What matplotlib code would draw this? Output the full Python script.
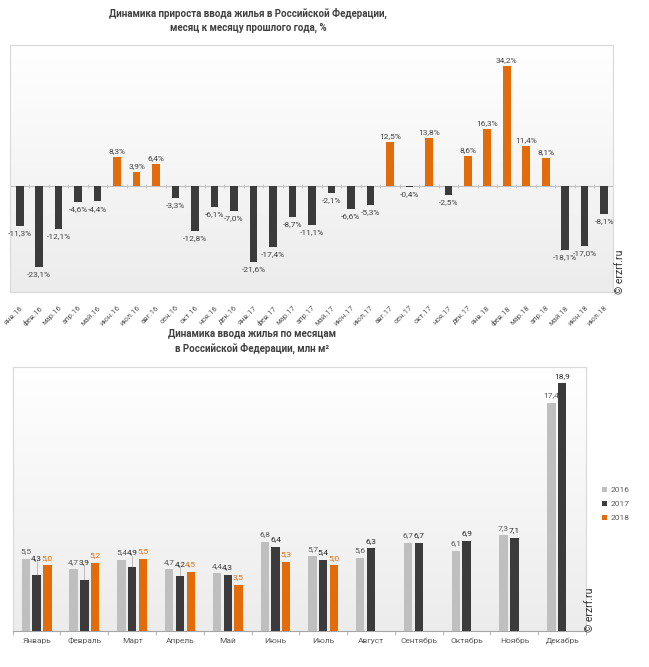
import numpy as np
import matplotlib.pyplot as plt

plt.rcParams['font.family'] = ['Roboto', 'DejaVu Sans']

# --- top chart data: growth month to month of previous year, %
months_growth = ["янв.16", "фев.16", "мар.16", "апр.16", "май.16", "июн.16", "июл.16", "авг.16",
                 "сен.16", "окт.16", "ноя.16", "дек.16", "янв.17", "фев.17", "мар.17", "апр.17",
                 "май.17", "июн.17", "июл.17", "авг.17", "сен.17", "окт.17", "ноя.17", "дек.17",
                 "янв.18", "фев.18", "мар.18", "апр.18", "май.18", "июн.18", "июл.18"]
growth = [-11.3, -23.1, -12.1, -4.6, -4.4, 8.3, 3.9, 6.4, -3.3, -12.8, -6.1, -7.0,
          -21.6, -17.4, -8.7, -11.1, -2.1, -6.6, -5.3, 12.5, -0.4, 13.8, -2.5, 8.6,
          16.3, 34.2, 11.4, 8.1, -18.1, -17.0, -8.1]

# --- bottom chart data: housing input by month, mln m2
months = ["Январь", "Февраль", "Март", "Апрель", "Май", "Июнь", "Июль", "Август",
          "Сентябрь", "Октябрь", "Ноябрь", "Декабрь"]
years = ["2016", "2017", "2018"]
v2016 = [5.5, 4.7, 5.4, 4.7, 4.4, 6.8, 5.7, 5.6, 6.7, 6.1, 7.3, 17.4]
v2017 = [4.3, 3.9, 4.9, 4.2, 4.3, 6.4, 5.4, 6.3, 6.7, 6.9, 7.1, 18.9]
v2018 = [5.0, 5.2, 5.5, 4.5, 3.5, 5.3, 5.0]

ORANGE = '#e36c0a'
DARK = '#3b3b3b'
LIGHT = '#bfbfbf'
TXT = '#404040'
BORDER = '#d9d9d9'


def fmt(v):
    return f"{v:.1f}".replace('.', ',')


def gradient_bg(ax):
    grad = np.linspace(1, 0, 256).reshape(-1, 1)
    ax.imshow(grad, extent=[0, 1, 0, 1], transform=ax.transAxes, aspect='auto',
              cmap=plt.matplotlib.colors.LinearSegmentedColormap.from_list('g', ['#ececec', '#ffffff']),
              zorder=0)


fig = plt.figure(figsize=(6.49, 6.67), dpi=100)

# ================= top chart
ax1 = fig.add_axes([0.0154, 0.5622, 0.929, 0.3703])
gradient_bg(ax1)
x = np.arange(len(growth))
cols = [ORANGE if v > 0 else DARK for v in growth]
ax1.bar(x, growth, width=0.39, color=cols, zorder=3)
for xi, v in zip(x, growth):
    if v > 0:
        ax1.annotate(fmt(v) + "%", (xi, v), xytext=(0, 2), textcoords='offset points',
                     ha='center', va='bottom', fontsize=6, color=TXT, zorder=4)
    else:
        ax1.annotate(fmt(v) + "%", (xi, v), xytext=(0, -3), textcoords='offset points',
                     ha='center', va='top', fontsize=6, color=TXT, zorder=4)
ax1.axhline(0, color='#bfbfbf', lw=0.8, zorder=2)
bounds = np.arange(len(growth) + 1) - 0.5
ax1.vlines(bounds, -0.6, 0.6, color='#bfbfbf', lw=0.6, zorder=2)
ax1.set_xlim(-0.5, len(growth) - 0.55)
ax1.set_ylim(-30.2, 40.2)
ax1.set_yticks([])
ax1.set_xticks(x)
ax1.set_xticklabels(months_growth, rotation=45, ha='right', va='top', rotation_mode='anchor',
                    fontsize=5.5, color='#595959')
ax1.tick_params(axis='x', length=0, pad=9)
for s in ax1.spines.values():
    s.set_color(BORDER)
    s.set_linewidth(0.8)

fig.text(248 / 649, 1 - 20 / 667, "Динамика прироста ввода жилья в Российской Федерации,\nмесяц к месяцу прошлого года, %",
         ha='center', va='center', fontsize=7, fontweight='bold', color=TXT, linespacing=1.45)
fig.text(620 / 649, 1 - 272 / 667, "© erzrf.ru", rotation=90, ha='center', va='center',
         fontsize=7.5, color='#303030')

# ================= bottom chart
ax2 = fig.add_axes([0.0196, 0.054, 0.8834, 0.3958])
gradient_bg(ax2)
g = np.arange(len(months))
off, w = 0.225, 0.175
series = [(v2016, LIGHT, -off), (v2017, DARK, 0.0), (v2018, ORANGE, off)]
handles = []
for (vals, c, o), yr in zip(series, years):
    gi = g[:len(vals)]
    b = ax2.bar(gi + o, vals, width=w, color=c, zorder=3, label=yr)
    handles.append(b)

pad = 0.35
fs = 6
for i in range(len(months)):
    # 2016
    ax2.text(i - off, v2016[i] + pad, fmt(v2016[i]), ha='center', va='bottom', fontsize=fs,
             color='#595959', zorder=4)
    # 2018
    if i < len(v2018):
        ax2.text(i + off, v2018[i] + pad, fmt(v2018[i]), ha='center', va='bottom', fontsize=fs,
                 color=ORANGE, zorder=4)
    # 2017: lifted to the lower neighbour label when it would collide
    ly = v2017[i]
    if i < len(v2018):
        ly = max(ly, min(v2016[i], v2018[i]))
    ax2.text(i, ly + pad, fmt(v2017[i]), ha='center', va='bottom', fontsize=fs,
             color='#262626', zorder=4)
    if ly > v2017[i]:
        ax2.plot([i, i], [v2017[i], ly + pad], color='#a6a6a6', lw=0.5, zorder=2)

ax2.set_xlim(-0.5, len(months) - 0.5)
ax2.set_ylim(0, 20.15)
ax2.set_yticks([])
ax2.set_xticks(g)
ax2.set_xticklabels(months, fontsize=6, color='#595959')
ax2.tick_params(axis='x', length=0, pad=5)
ax2.set_xticks(np.arange(len(months) + 1) - 0.5, minor=True)
ax2.tick_params(axis='x', which='minor', length=3, color='#a6a6a6', width=0.6)
for s in ax2.spines.values():
    s.set_color(BORDER)
    s.set_linewidth(0.8)
ax2.spines['bottom'].set_color('#a6a6a6')

leg = fig.legend(handles=handles, labels=years, loc='center left',
                 bbox_to_anchor=(598 / 649, 1 - 504 / 667), frameon=False, fontsize=6,
                 handlelength=0.6, handleheight=0.6, handletextpad=0.4, labelspacing=0.9,
                 borderpad=0)
for t in leg.get_texts():
    t.set_color('#595959')

fig.text(252 / 649, 1 - 341 / 667, "Динамика ввода жилья по месяцам\nв Российской Федерации, млн м²",
         ha='center', va='center', fontsize=7, fontweight='bold', color=TXT, linespacing=1.45)
fig.text(590 / 649, 1 - 610 / 667, "© erzrf.ru", rotation=90, ha='center', va='center',
         fontsize=7.5, color='#303030')

fig.savefig("out.png", dpi=100)
